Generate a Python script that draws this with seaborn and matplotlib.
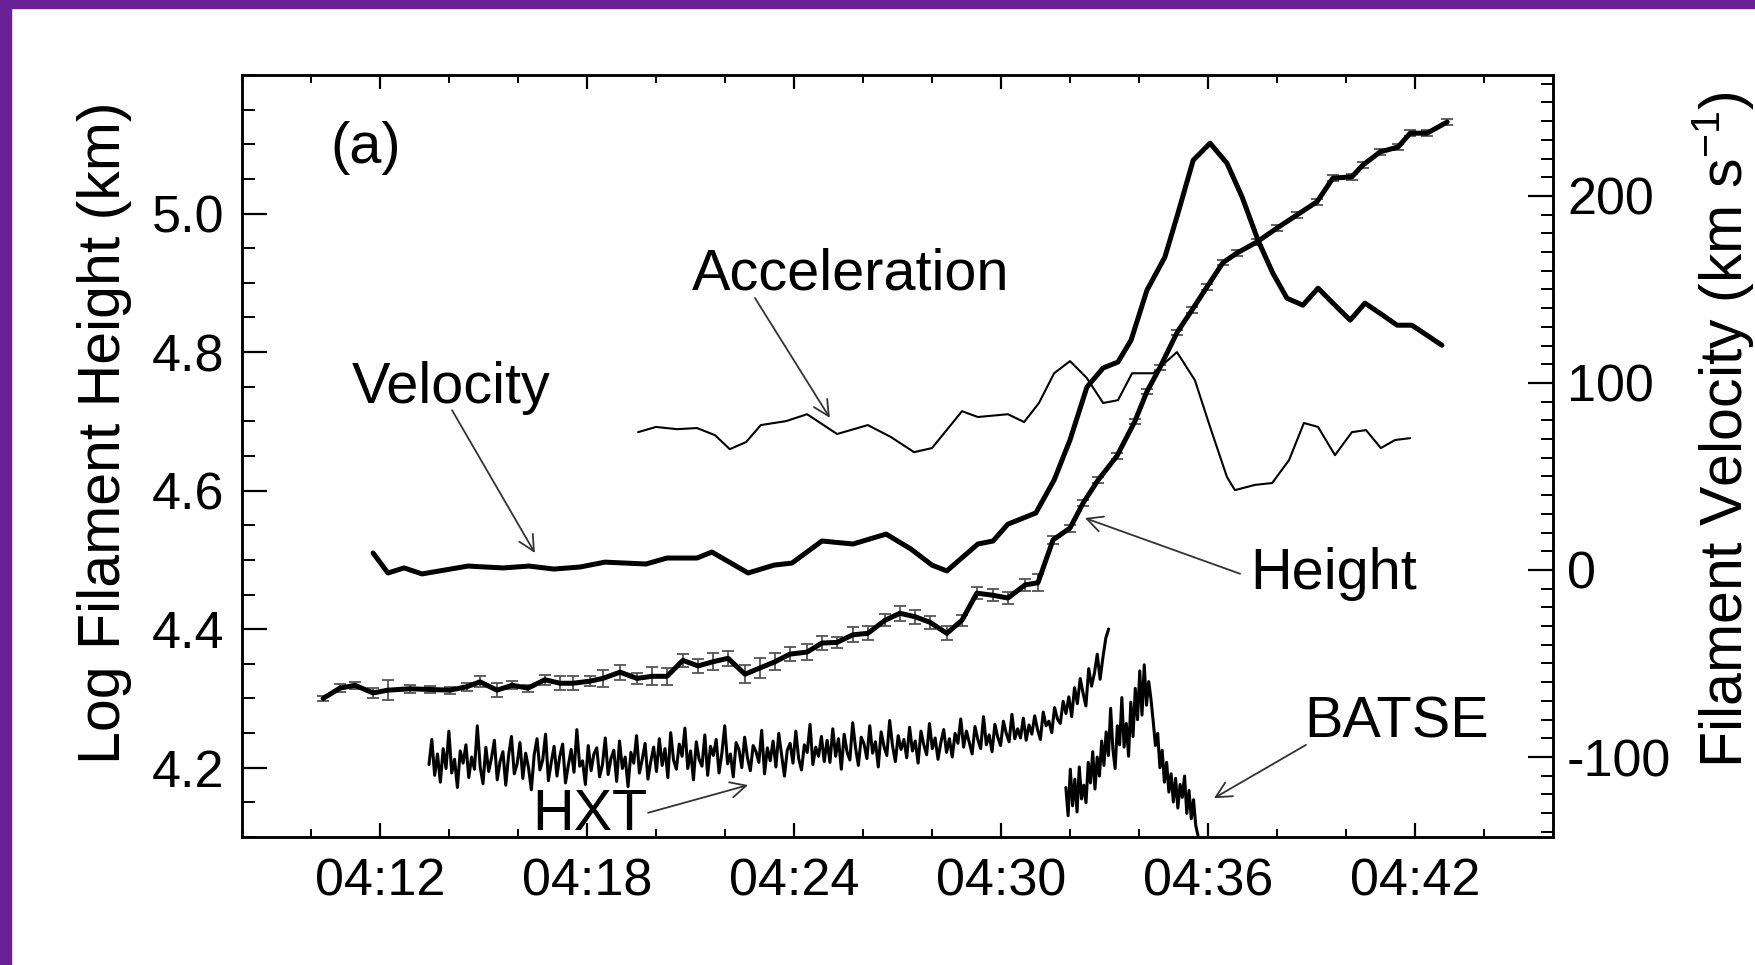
import numpy as np
import pandas as pd
import matplotlib.pyplot as plt
import seaborn as sns
from matplotlib.patches import Rectangle
from matplotlib.ticker import FixedLocator, MultipleLocator, FuncFormatter

# times are minutes after 04:00 UT
height_t = [10.35, 10.84, 11.28, 11.80, 12.23, 12.87, 13.45, 14.03, 14.52, 14.90,
            15.39, 15.83, 16.29, 16.78, 17.22, 17.59, 18.09, 18.46, 18.96, 19.45,
            19.88, 20.32, 20.78, 21.22, 21.65, 22.09, 22.58, 23.01, 23.45, 23.88,
            24.38, 24.81, 25.25, 25.71, 26.14, 26.64, 27.07, 27.51, 27.94, 28.43,
            28.87, 29.30, 29.77, 30.20, 30.70, 31.07, 31.51, 32.00, 32.38, 32.81,
            33.36, 33.88, 34.23, 34.61, 35.10, 35.54, 35.97, 36.43, 36.84, 37.42,
            38.00, 38.58, 39.16, 39.62, 40.17, 40.49, 40.99, 41.51, 41.86, 42.35,
            42.93]
height_log = [4.300, 4.315, 4.319, 4.308, 4.312, 4.314, 4.313, 4.312, 4.317, 4.324,
              4.312, 4.319, 4.315, 4.327, 4.322, 4.322, 4.325, 4.329, 4.338, 4.329,
              4.332, 4.332, 4.355, 4.347, 4.353, 4.358, 4.335, 4.344, 4.353, 4.364,
              4.367, 4.380, 4.381, 4.392, 4.394, 4.413, 4.423, 4.418, 4.410, 4.394,
              4.413, 4.452, 4.449, 4.445, 4.464, 4.467, 4.529, 4.546, 4.582, 4.615,
              4.650, 4.700, 4.743, 4.778, 4.828, 4.861, 4.894, 4.929, 4.943, 4.959,
              4.979, 4.998, 5.017, 5.051, 5.053, 5.070, 5.089, 5.096, 5.116, 5.116,
              5.132]
height_err = [0.004, 0.006, 0.005, 0.007, 0.014, 0.006, 0.005, 0.005, 0.006, 0.008,
              0.010, 0.006, 0.005, 0.007, 0.010, 0.010, 0.007, 0.012, 0.011, 0.008,
              0.013, 0.012, 0.009, 0.010, 0.012, 0.011, 0.013, 0.014, 0.012, 0.010,
              0.012, 0.010, 0.008, 0.011, 0.010, 0.009, 0.011, 0.010, 0.009, 0.010,
              0.008, 0.009, 0.009, 0.008, 0.009, 0.012, 0.006, 0.005, 0.004, 0.004,
              0.004, 0.004, 0.004, 0.004, 0.004, 0.004, 0.004, 0.004, 0.004, 0.004,
              0.004, 0.004, 0.004, 0.004, 0.004, 0.004, 0.004, 0.004, 0.004, 0.004,
              0.004]

vel_t = [11.80, 12.23, 12.70, 13.22, 14.55, 15.57, 16.32, 17.04, 17.80, 18.52,
         19.71, 20.32, 21.19, 21.62, 22.67, 23.42, 23.94, 24.81, 25.71, 26.67,
         27.39, 28.00, 28.43, 29.33, 29.77, 30.20, 31.01, 31.54, 32.00, 32.49,
         32.96, 33.39, 33.77, 34.23, 34.75, 35.13, 35.57, 36.06, 36.55, 36.99,
         37.45, 37.88, 38.29, 38.75, 39.19, 39.68, 40.12, 40.55, 41.07, 41.48,
         41.91, 42.35, 42.78]
vel_kms = [9.1, -1.6, 1.1, -2.1, 2.1, 1.1, 2.1, 0.5, 1.6, 4.2,
           3.2, 6.4, 6.4, 9.6, -1.6, 2.6, 3.7, 15.5, 13.9, 19.2,
           11.2, 2.6, -0.5, 13.9, 15.5, 24.5, 30.5, 48.1, 69.5, 97.8,
           108.0, 111.2, 122.9, 149.6, 167.3, 190.8, 219.1, 228.2, 217.5, 199.4,
           176.3, 158.7, 145.3, 141.6, 150.7, 141.6, 133.6, 142.7, 136.2, 130.9,
           130.9, 125.5, 120.2]

# acceleration profile, drawn against the velocity scale
acc_t = [19.48, 20.00, 20.61, 21.19, 21.71, 22.14, 22.61, 23.04, 23.77, 24.38,
         25.25, 26.14, 26.81, 27.48, 28.00, 28.87, 29.33, 30.20, 30.67, 31.10,
         31.54, 32.00, 32.49, 32.96, 33.39, 33.80, 34.41, 35.10, 35.62, 36.06,
         36.55, 36.78, 37.36, 37.86, 38.35, 38.78, 39.19, 39.68, 40.17, 40.58,
         41.01, 41.42, 41.86]
acc_val = [73.7, 76.5, 75.3, 75.9, 72.1, 64.6, 68.4, 77.5, 79.6, 83.3,
           72.7, 77.5, 71.1, 63.0, 65.2, 84.9, 81.8, 83.3, 79.1, 89.3,
           105.2, 111.7, 102.6, 89.3, 90.8, 105.2, 105.2, 116.5, 101.5, 76.5,
           49.7, 42.7, 45.5, 46.5, 58.8, 78.6, 76.5, 61.4, 73.7, 74.8,
           65.2, 69.5, 70.5]

# hard X-ray count rates (arbitrary units, 0-100 scale)
hxt_span = (13.42, 33.12)
hxt_counts = [9.5, 12.8, 8.1, 10.9, 7.2, 11.6, 9.0, 13.9, 8.4, 10.2,
              6.5, 11.3, 9.7, 12.1, 7.8, 10.5, 8.9, 14.6, 9.2, 7.0,
              11.8, 8.6, 10.4, 12.7, 7.5, 9.9, 11.2, 6.8, 10.7, 13.2,
              8.3, 9.6, 12.4, 7.7, 11.0, 9.1, 6.2, 10.8, 12.9, 8.8,
              10.1, 13.5, 7.4, 9.8, 11.9, 8.0, 10.6, 12.2, 7.1, 9.4,
              11.5, 8.5, 14.1, 9.3, 10.0, 6.9, 12.0, 8.7, 10.9, 11.7,
              7.9, 9.5, 13.0, 8.2, 10.3, 11.4, 7.3, 12.6, 9.0, 10.5,
              6.6, 11.1, 9.7, 13.3, 8.4, 10.2, 12.3, 7.6, 9.9, 11.8,
              8.6, 12.9, 9.4, 11.6, 7.8, 13.7, 10.1, 8.9, 12.2, 10.6,
              14.3, 9.0, 11.3, 7.5, 12.5, 10.2, 9.3, 13.4, 8.1, 11.9,
              10.7, 12.8, 8.4, 11.0, 14.6, 9.6, 10.9, 7.9, 12.4, 11.5,
              9.1, 13.1, 10.4, 8.7, 12.0, 11.2, 9.8, 14.0, 8.3, 11.7,
              10.0, 12.6, 9.2, 13.6, 10.8, 8.0, 11.4, 12.3, 9.7, 13.9,
              10.3, 8.8, 12.1, 11.1, 14.8, 9.5, 11.8, 10.6, 13.2, 9.9,
              12.7, 9.8, 14.2, 10.6, 12.9, 8.9, 13.5, 11.2, 10.1, 15.0,
              11.7, 9.4, 13.1, 12.2, 10.3, 14.6, 11.0, 12.5, 9.2, 13.8,
              11.9, 10.7, 15.3, 12.0, 9.9, 13.3, 11.5, 12.8, 10.4, 14.4,
              11.3, 12.6, 9.7, 13.9, 12.1, 10.8, 14.9, 11.6, 13.0, 10.2,
              12.4, 14.1, 11.1, 12.9, 10.5, 13.6, 12.3, 15.5,
              11.8, 13.9, 12.4, 10.9, 14.5, 12.8, 11.6, 15.8, 12.1, 13.4,
              11.2, 14.8, 13.1, 12.0, 15.2, 13.6, 12.5, 16.1, 12.9, 14.2,
              13.0, 15.6, 12.7, 14.7,
              13.5, 15.9, 14.1, 12.8, 16.4, 14.6, 15.2, 13.7, 17.0, 15.5, 14.9, 17.8,
              16.2, 18.4, 15.8, 19.6, 17.5, 20.8, 18.9, 17.2, 22.1, 19.8, 21.5, 24.0,
              20.7, 23.6, 26.1, 27.3]

batse_span = (31.88, 35.71)
batse_counts = [6.5, 2.8, 8.9, 4.1, 7.6, 3.3, 9.2, 5.0, 6.8,
                4.5, 9.8, 7.1, 11.2, 6.3, 10.5, 8.0, 12.6,
                9.4, 13.8, 10.7, 16.9, 11.5, 9.0, 14.6, 12.1, 18.3, 11.8,
                14.9, 10.6, 17.7, 13.2, 19.5, 15.4, 21.8, 16.0, 22.6, 17.3, 20.4, 18.1,
                15.2, 12.0, 13.6, 9.1, 11.4, 7.2, 9.8,
                5.9, 8.3, 4.6, 7.7, 3.8, 6.9, 5.2, 8.0, 3.1, 6.1, 2.4, 4.9, 1.5, 0.2]

time_ticks = [12, 18, 24, 30, 36, 42]
time_labels = ["04:12", "04:18", "04:24", "04:30", "04:36", "04:42"]
height_ticks = [4.2, 4.4, 4.6, 4.8, 5.0]
vel_ticks = [-100, 0, 100, 200]

sns.set_theme(style="ticks")
plt.rcParams["font.family"] = ["Liberation Sans", "DejaVu Sans"]
plt.rcParams["mathtext.fontset"] = "custom"
plt.rcParams["mathtext.rm"] = "Liberation Sans"
plt.rcParams["mathtext.default"] = "regular"
plt.rcParams["axes.unicode_minus"] = False
for key in ("text.color", "axes.labelcolor", "xtick.color", "ytick.color", "axes.edgecolor"):
    plt.rcParams[key] = "black"

fig = plt.figure(figsize=(17.56, 9.65), dpi=100, facecolor="white")
ax = fig.add_axes([0.1378, 0.1326, 0.7466, 0.7897])
ax2 = ax.twinx()
ax3 = ax.twinx()

hdf = pd.DataFrame({"t": height_t, "h": height_log, "err": height_err})
vdf = pd.DataFrame({"t": vel_t, "v": vel_kms})
adf = pd.DataFrame({"t": acc_t, "a": acc_val})
hxt = pd.DataFrame({"t": np.linspace(*hxt_span, len(hxt_counts)), "c": hxt_counts})
bat = pd.DataFrame({"t": np.linspace(*batse_span, len(batse_counts)), "c": batse_counts})

# height with error bars
ax.errorbar(hdf["t"], hdf["h"], yerr=hdf["err"], fmt="none", ecolor="#555555",
            elinewidth=1.3, capsize=4.5, capthick=1.3, zorder=2)
sns.lineplot(data=hdf, x="t", y="h", ax=ax, color="black", lw=3.6, zorder=3)

sns.lineplot(data=vdf, x="t", y="v", ax=ax2, color="black", lw=3.6)
sns.lineplot(data=adf, x="t", y="a", ax=ax2, color="black", lw=1.5)

sns.lineplot(data=hxt, x="t", y="c", ax=ax3, color="black", lw=2.2)
sns.lineplot(data=bat, x="t", y="c", ax=ax3, color="black", lw=2.2)

ax.set_xlim(8, 46)
ax.set_ylim(4.1, 5.2)
ax2.set_ylim(-142.8, 264.7)
ax3.set_ylim(0, 100)
ax3.set_axis_off()

ax.xaxis.set_major_locator(FixedLocator(time_ticks))
ax.set_xticklabels(time_labels)
ax.xaxis.set_minor_locator(MultipleLocator(2))
ax.yaxis.set_major_locator(FixedLocator(height_ticks))
ax.yaxis.set_major_formatter(FuncFormatter(lambda v, p: f"{v:.1f}"))
ax.yaxis.set_minor_locator(MultipleLocator(0.05))
ax2.yaxis.set_major_locator(FixedLocator(vel_ticks))
ax2.yaxis.set_major_formatter(FuncFormatter(lambda v, p: f"{v:.0f}"))
ax2.yaxis.set_minor_locator(MultipleLocator(10))

ax.set_xlabel("")
ax.set_ylabel("Log Filament Height (km)", fontsize=42.5, labelpad=14)
ax2.set_ylabel("Filament Velocity (km s$^{-1}$)", fontsize=42.5, labelpad=14)
ax.yaxis.label.set_y(0.53)
ax2.yaxis.label.set_y(0.535)

ax.tick_params(axis="x", which="major", direction="in", length=10, width=1.6,
               top=True, labelsize=37.5, pad=15)
ax.tick_params(axis="x", which="minor", direction="in", length=5.5, width=1.4, top=True)
ax.tick_params(axis="y", which="major", direction="in", length=18, width=1.6,
               right=False, labelsize=37.5, pad=13)
ax.tick_params(axis="y", which="minor", direction="in", length=9, width=1.4, right=False)
ax2.tick_params(axis="y", which="major", direction="in", length=18, width=1.6,
                labelsize=37.5, pad=10)
ax2.tick_params(axis="y", which="minor", direction="in", length=9, width=1.4)

for a in (ax, ax2):
    for s in a.spines.values():
        s.set_linewidth(1.8)
        s.set_color("black")

txt = dict(fontsize=41.5, ha="center", va="baseline", color="black")
ax.text(11.59, 5.073, "(a)", **txt)
ax.text(25.65, 4.890, "Acceleration", **txt)
ax.text(14.06, 4.7265, "Velocity", **txt)
ax.text(39.65, 4.458, "Height", **txt)
ax.text(18.09, 4.110, "HXT", **txt)
ax.text(41.48, 4.243, "BATSE", **txt)

arrow = dict(arrowstyle="->", color="#333333", lw=1.3, mutation_scale=28,
             shrinkA=0, shrinkB=0)
ax.annotate("", xy=(25.04, 4.705), xytext=(22.87, 4.878), arrowprops=arrow)
ax.annotate("", xy=(16.49, 4.510), xytext=(14.09, 4.716), arrowprops=arrow)
ax.annotate("", xy=(32.43, 4.5605), xytext=(36.93, 4.480), arrowprops=arrow)
ax.annotate("", xy=(22.67, 4.175), xytext=(19.77, 4.135), arrowprops=arrow)
ax.annotate("", xy=(36.17, 4.156), xytext=(38.84, 4.233), arrowprops=arrow)

# purple frame strips on the left and top edges
fig.patches.append(Rectangle((0, 0), 11 / 1756, 1, transform=fig.transFigure,
                             color="#6a2196", zorder=10))
fig.patches.append(Rectangle((0, 1 - 8 / 965), 1, 8 / 965, transform=fig.transFigure,
                             color="#6a2196", zorder=10))

fig.savefig("out.png", dpi=100, facecolor="white")
